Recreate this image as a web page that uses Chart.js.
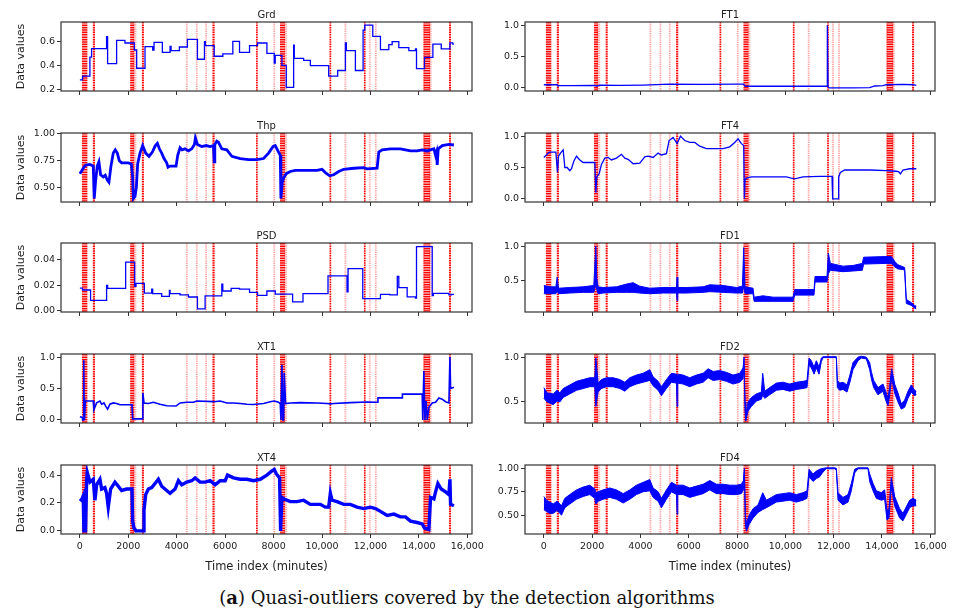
<!DOCTYPE html>
<html>
<head>
<meta charset="utf-8">
<script src="https://cdn.jsdelivr.net/npm/chart.js@4.4.1/dist/chart.umd.min.js"></script>
<style>
  html, body { margin: 0; padding: 0; background: #fff; }
  #fig { position: relative; width: 958px; height: 612px; overflow: hidden; background: #fff; }
  #fig canvas { position: absolute; }
  #caption { position: absolute; left: 0; width: 934px; top: 587px; line-height: 22px;
             text-align: center; font-family: 'DejaVu Serif', serif; font-size: 18px; color: #111; }
</style>
</head>
<body>
<div id="fig">
  <div id="caption">(<b>a</b>) Quasi-outliers covered by the detection algorithms</div>
</div>
<script>
// ---- shared time axis ----
const timeTickValues = [0, 2000, 4000, 6000, 8000, 10000, 12000, 14000, 16000];
const timeTickLabels = ['0', '2000', '4000', '6000', '8000', '10,000', '12,000', '14,000', '16,000'];

// ---- quasi-outlier time stamps (minutes) ----
const outlierTimesStrong = [120, 140, 160, 180, 200, 220, 240, 260, 275, 570, 590,
  2110, 2130, 2150, 2170, 2190, 2210, 2595, 2610, 5510, 5530, 7310,
  8300, 8320, 8340, 8360, 8380, 8420, 8440, 10345, 11766,
  14230, 14250, 14270, 14290, 14310, 14330, 14350, 14370, 14390, 14410, 14430, 15280, 15295];
const outlierTimesFaint = [2230, 2250, 2270, 2295, 4414, 4828, 5214, 8028, 8490, 8515,
  10966, 11973, 12221, 14210, 14450, 14470, 14490];

// ---- Grd (step signal) ----
const grdTime = [0, 110, 414, 483, 1103, 1145, 1517, 1862, 2248, 2345, 2690, 3007, 3062, 3407, 3724, 3766,
  4110, 4441, 4855, 5145, 5186, 5545, 5903, 6317, 6593, 7007, 7338, 7724, 8028, 8069, 8345, 8524,
  8828, 8855, 9241, 9517, 10276, 10648, 10966, 11007, 11379, 11697, 11766, 12097, 12414, 12759,
  12897, 13172, 13586, 13862, 13903, 14234, 14579, 14924, 15283, 15400, 15448];
const grdValue = [0.278, 0.309, 0.47, 0.541, 0.642, 0.415, 0.611, 0.589, 0.53, 0.376, 0.558, 0.53, 0.594, 0.51, 0.56, 0.524,
  0.555, 0.619, 0.452, 0.60, 0.566, 0.477, 0.497, 0.603, 0.51, 0.566, 0.589, 0.502, 0.42, 0.485, 0.40, 0.214,
  0.57, 0.46, 0.443, 0.398, 0.309, 0.357, 0.59, 0.524, 0.357, 0.698, 0.74, 0.645, 0.533, 0.575,
  0.60, 0.55, 0.525, 0.54, 0.373, 0.468, 0.58, 0.54, 0.59, 0.58, 0.58];
const grdTicks = ['0.2', '0.4', '0.6'];

// ---- Thp ----
const thpTime = [0, 83, 166, 248, 414, 552, 593, 648, 717, 786, 855, 966, 1048, 1131, 1200, 1283, 1379, 1462, 1545,
  1628, 1724, 2000, 2124, 2179, 2207, 2276, 2331, 2386, 2483, 2593, 2717, 2855, 2993, 3117, 3200, 3283,
  3379, 3476, 3586, 3641, 3724, 3972, 4041, 4138, 4221, 4345, 4483, 4621, 4731, 4772, 4855, 5034,
  5214, 5379, 5517, 5545, 5572, 5655, 5724, 5862, 6069, 6276, 6621, 6966, 7310, 7586, 7793, 7972,
  8069, 8207, 8276, 8303, 8359, 8414, 8524, 8690, 8897, 9379, 9793, 10000, 10138, 10317, 10483,
  10690, 10897, 11310, 11724, 11862, 12276, 12345, 12483, 12828, 13241, 13448, 13655, 13931, 14138,
  14345, 14621, 14690, 14731, 14759, 14800, 14966, 15241, 15448];
const thpValue = [0.63, 0.66, 0.69, 0.71, 0.715, 0.70, 0.40, 0.56, 0.70, 0.74, 0.62, 0.60, 0.615, 0.57, 0.55, 0.70, 0.82, 0.85, 0.82,
  0.75, 0.73, 0.73, 0.72, 0.60, 0.40, 0.42, 0.50, 0.72, 0.82, 0.89, 0.82, 0.79, 0.83, 0.89, 0.91, 0.86,
  0.82, 0.77, 0.73, 0.69, 0.70, 0.70, 0.80, 0.87, 0.85, 0.86, 0.84, 0.86, 0.90, 0.96, 0.90, 0.88,
  0.89, 0.88, 0.89, 0.74, 0.90, 0.93, 0.92, 0.86, 0.85, 0.79, 0.77, 0.76, 0.76, 0.77, 0.82, 0.88,
  0.89, 0.83, 0.80, 0.40, 0.55, 0.59, 0.63, 0.65, 0.66, 0.66, 0.66, 0.67, 0.64, 0.61, 0.62,
  0.65, 0.67, 0.68, 0.685, 0.675, 0.68, 0.83, 0.85, 0.86, 0.86, 0.85, 0.84, 0.84, 0.85,
  0.84, 0.86, 0.80, 0.83, 0.71, 0.86, 0.89, 0.90, 0.895];
const thpTicks = ['0.50', '0.75', '1.00'];

// ---- PSD (step signal) ----
const psdTime = [0, 110, 441, 1103, 1145, 1890, 2262, 2317, 2662, 2966, 3007, 3379, 3697, 3724, 4138, 4483, 4855,
  5172, 5862, 5903, 6248, 6593, 7007, 7338, 7724, 8069, 8786, 9214, 10248, 11034, 11076, 11683, 12414,
  12800, 13110, 13172, 13517, 13862, 13903, 14552, 14600, 15241, 15350, 15448];
const psdValue = [0.0179, 0.0164, 0.0083, 0.020, 0.0177, 0.0382, 0.0192, 0.0216, 0.014, 0.017, 0.0135, 0.0114, 0.016, 0.0135, 0.0125, 0.0109, 0.0016,
  0.0117, 0.021, 0.0156, 0.0177, 0.0171, 0.0145, 0.0122, 0.0156, 0.0132, 0.007, 0.0135, 0.0275, 0.015, 0.0332, 0.0096, 0.013,
  0.0125, 0.027, 0.0182, 0.011, 0.010, 0.0504, 0.012, 0.0138, 0.0125, 0.013, 0.013];
const psdTicks = ['0.00', '0.02', '0.04'];

// ---- XT1 ----
const xt1Time = [0, 100, 115, 150, 160, 172, 185, 200, 221, 552, 580, 690, 828, 897, 993, 1076, 1145, 1241, 1379, 1517,
  1655, 2069, 2152, 2180, 2580, 2600, 2648, 2828, 3034, 3310, 3586, 3972, 4138, 4414, 4690, 4828, 5517,
  5793, 6069, 6345, 6621, 6897, 7172, 7586, 7862, 8028, 8207, 8276, 8303, 8345, 8380, 8414, 8440, 8497,
  8690, 9103, 9793, 10207, 10345, 10483, 11172, 11862, 12276, 12310, 13310, 13320, 14138, 14160, 14207,
  14250, 14300, 14350, 14414, 14552, 14690, 14828, 14966, 15103, 15241, 15283, 15310, 15448];
const xt1Value = [0.05, 0.04, 0.0, 0.0, 0.95, 0.35, 0.0, 0.0, 0.30, 0.30, 0.16, 0.27, 0.30, 0.25, 0.27, 0.21, 0.17, 0.25, 0.27, 0.26,
  0.24, 0.24, 0.24, 0.016, 0.016, 0.43, 0.27, 0.26, 0.28, 0.25, 0.225, 0.22, 0.27, 0.28, 0.28, 0.30, 0.29,
  0.30, 0.27, 0.27, 0.26, 0.25, 0.245, 0.26, 0.29, 0.30, 0.28, 0.26, 0.0, 0.88, 0.0, 0.0, 0.75, 0.26,
  0.27, 0.275, 0.27, 0.26, 0.255, 0.26, 0.275, 0.285, 0.28, 0.35, 0.35, 0.41, 0.41, 0.0, 0.78,
  0.0, 0.30, 0.0, 0.20, 0.27, 0.28, 0.35, 0.33, 0.29, 0.27, 1.0, 0.50, 0.52];
const xt1Ticks = ['0.0', '0.5', '1.0'];

// ---- XT4 ----
const xt4Time = [0, 69, 138, 166, 234, 276, 303, 414, 552, 621, 690, 828, 897, 1034, 1103, 1172, 1269, 1448, 1586, 1724,
  1931, 2152, 2179, 2234, 2317, 2621, 2648, 2717, 2828, 2966, 3103, 3241, 3379, 3586, 3724, 3931, 4069,
  4207, 4414, 4621, 4759, 4966, 5172, 5379, 5586, 5793, 6000, 6097, 6345, 6621, 6897, 7172, 7448, 7724,
  7931, 8028, 8110, 8248, 8290, 8345, 8414, 8690, 8966, 9241, 9517, 9931, 10138, 10276, 10345, 10414,
  10621, 10897, 11172, 11448, 11724, 12000, 12207, 12414, 12690, 12966, 13241, 13448, 13655, 13931,
  14138, 14234, 14414, 14483, 14621, 14690, 14786, 14924, 15103, 15241, 15283, 15310, 15448];
const xt4Value = [0.23, 0.22, 0.25, 0.0, 0.0, 0.35, 0.42, 0.35, 0.37, 0.22, 0.33, 0.37, 0.30, 0.31, 0.27, 0.17, 0.30, 0.35, 0.32, 0.29,
  0.30, 0.30, 0.07, 0.02, 0.0, 0.0, 0.15, 0.26, 0.30, 0.31, 0.34, 0.37, 0.32, 0.29, 0.27, 0.30, 0.36,
  0.33, 0.35, 0.36, 0.38, 0.35, 0.35, 0.36, 0.33, 0.36, 0.36, 0.40, 0.38, 0.37, 0.37, 0.36, 0.37, 0.40,
  0.43, 0.44, 0.41, 0.38, 0.0, 0.24, 0.23, 0.21, 0.21, 0.22, 0.19, 0.19, 0.17, 0.17, 0.27, 0.22,
  0.21, 0.19, 0.19, 0.17, 0.16, 0.17, 0.16, 0.14, 0.11, 0.12, 0.10, 0.10, 0.07, 0.06,
  0.05, 0.02, 0.01, 0.24, 0.23, 0.28, 0.34, 0.30, 0.28, 0.26, 0.37, 0.19, 0.18];
const xt4Ticks = ['0.0', '0.2', '0.4'];

// ---- FT1 ----
const ft1Time = [0, 552, 579, 1076, 2110, 2179, 2317, 3145, 4110, 5214, 6593, 7972, 8276, 8331, 11724, 11738, 11766,
  11807, 12800, 13490, 13697, 14041, 14179, 14869, 15283, 15421];
const ft1Value = [0.05, 0.05, 0.035, 0.035, 0.04, 0.03, 0.045, 0.04, 0.045, 0.06, 0.055, 0.06, 0.06, 0.026, 0.026, 1.0, 0.02,
  0.0, 0.0, 0.005, 0.03, 0.035, 0.05, 0.055, 0.05, 0.04];
const ft1Ticks = ['0.0', '0.5', '1.0'];

// ---- FT4 ----
const ft4Time = [0, 83, 179, 248, 497, 566, 607, 690, 800, 869, 966, 1076, 1145, 1241, 1352, 1490, 1628, 2110, 2152,
  2193, 2290, 2386, 2524, 2662, 2800, 3007, 3214, 3352, 3490, 3697, 3972, 4179, 4317, 4524, 4731, 4869,
  5076, 5186, 5352, 5517, 5655, 5834, 6041, 6248, 6455, 6731, 7421, 7697, 7903, 8041, 8179, 8276, 8303,
  8331, 8386, 8593, 9352, 10041, 10248, 10386, 10731, 11421, 11931, 11959, 12179, 12207, 12276, 12455,
  13490, 14179, 14593, 14703, 14759, 14869, 15145, 15421];
const ft4Value = [0.66, 0.69, 0.73, 0.745, 0.745, 0.42, 0.68, 0.73, 0.78, 0.50, 0.50, 0.45, 0.48, 0.60, 0.68, 0.62, 0.58, 0.58, 0.10,
  0.35, 0.40, 0.55, 0.65, 0.66, 0.62, 0.65, 0.71, 0.65, 0.63, 0.56, 0.57, 0.67, 0.68, 0.66, 0.73, 0.70,
  0.72, 0.93, 0.98, 0.88, 1.0, 0.93, 0.90, 0.90, 0.84, 0.80, 0.80, 0.83, 0.90, 0.957, 0.88, 0.85, 0.0,
  0.30, 0.33, 0.35, 0.35, 0.35, 0.33, 0.32, 0.35, 0.36, 0.36, 0.0, 0.0, 0.35, 0.42, 0.46,
  0.46, 0.45, 0.44, 0.43, 0.40, 0.46, 0.48, 0.48];
const ft4Ticks = ['0.0', '0.5', '1.0'];

// ---- FD1 (noisy: centre and half-width of the noise band) ----
const fd1Time = [0, 248, 497, 552, 607, 1076, 1628, 2069, 2152, 2193, 2248, 2455, 3007, 3421, 3697, 3972, 4386, 4938,
  5490, 5517, 5545, 5903, 6593, 6869, 7421, 7972, 8221, 8276, 8331, 8662, 8704, 9076, 9490, 10317,
  10386, 11186, 11228, 11724, 11779, 11862, 12386, 12800, 13186, 13241, 14179, 14386, 14524, 14662,
  14869, 14938, 15007, 15214, 15352, 15421];
const fd1Value = [0.37, 0.36, 0.36, 0.45, 0.35, 0.36, 0.37, 0.38, 0.72, 0.45, 0.36, 0.36, 0.37, 0.39, 0.40, 0.37, 0.35, 0.36,
  0.36, 0.38, 0.36, 0.36, 0.37, 0.39, 0.38, 0.36, 0.37, 0.70, 0.36, 0.35, 0.23, 0.24, 0.23, 0.23,
  0.33, 0.33, 0.52, 0.52, 0.75, 0.70, 0.67, 0.68, 0.70, 0.79, 0.80, 0.80, 0.74, 0.70,
  0.68, 0.67, 0.20, 0.16, 0.12, 0.11];
const fd1Spread = [0.06, 0.05, 0.05, 0.10, 0.04, 0.04, 0.04, 0.05, 0.28, 0.08, 0.05, 0.04, 0.04, 0.06, 0.07, 0.05, 0.04, 0.04,
  0.04, 0.17, 0.04, 0.04, 0.04, 0.05, 0.05, 0.04, 0.05, 0.28, 0.05, 0.04, 0.03, 0.04, 0.03, 0.03,
  0.04, 0.04, 0.04, 0.04, 0.15, 0.05, 0.04, 0.04, 0.05, 0.05, 0.05, 0.05, 0.04, 0.03,
  0.02, 0.02, 0.03, 0.02, 0.02, 0.02];
const fd1Ticks = ['0.5', '1.0'];

// ---- FD2 ----
const fd2Time = [0, 138, 386, 552, 662, 800, 1076, 1352, 1628, 1903, 2110, 2152, 2248, 2386, 2593, 2869, 3145, 3352,
  3559, 3834, 4110, 4386, 4524, 4731, 4869, 5076, 5283, 5490, 5517, 5545, 5765, 6041, 6317, 6593, 6800,
  7007, 7283, 7559, 7834, 8110, 8248, 8290, 8331, 8359, 8455, 8593, 8800, 9007, 9062, 9145, 9352, 9628,
  9903, 10179, 10455, 10731, 10897, 10979, 11076, 11186, 11283, 11393, 11490, 11559, 12110, 12152,
  12248, 12386, 12552, 12662, 12800, 13007, 13145, 13352, 13490, 13559, 13655, 13834, 14041, 14179,
  14248, 14317, 14400, 14524, 14662, 14800, 14938, 15076, 15214, 15352, 15421];
const fd2Value = [0.60, 0.55, 0.53, 0.57, 0.55, 0.60, 0.64, 0.68, 0.70, 0.72, 0.72, 0.72, 0.66, 0.70, 0.72, 0.72, 0.70, 0.67,
  0.72, 0.75, 0.77, 0.80, 0.73, 0.68, 0.62, 0.70, 0.77, 0.76, 0.62, 0.76, 0.75, 0.72, 0.75, 0.77, 0.82,
  0.79, 0.80, 0.78, 0.75, 0.77, 0.82, 0.95, 0.45, 0.32, 0.45, 0.50, 0.55, 0.57, 0.70, 0.58, 0.62, 0.67,
  0.68, 0.66, 0.68, 0.69, 0.70, 0.95, 0.92, 0.85, 0.92, 0.85, 0.97, 1.0, 1.0, 0.70,
  0.67, 0.68, 0.65, 0.75, 0.90, 0.98, 1.0, 0.99, 0.90, 0.80, 0.70, 0.62, 0.66, 0.55,
  0.50, 0.62, 0.82, 0.65, 0.55, 0.45, 0.48, 0.58, 0.65, 0.60, 0.60];
const fd2Spread = [0.06, 0.05, 0.06, 0.06, 0.05, 0.05, 0.05, 0.05, 0.05, 0.05, 0.05, 0.27, 0.05, 0.05, 0.05, 0.05, 0.05, 0.05,
  0.05, 0.05, 0.05, 0.06, 0.05, 0.05, 0.05, 0.05, 0.05, 0.05, 0.17, 0.05, 0.05, 0.05, 0.05, 0.05, 0.05,
  0.05, 0.05, 0.05, 0.05, 0.05, 0.06, 0.05, 0.05, 0.03, 0.05, 0.05, 0.04, 0.04, 0.12, 0.04, 0.04, 0.04,
  0.04, 0.04, 0.04, 0.04, 0.04, 0.04, 0.04, 0.04, 0.04, 0.04, 0.02, 0.005, 0.005, 0.04,
  0.04, 0.04, 0.04, 0.04, 0.04, 0.02, 0.01, 0.01, 0.04, 0.04, 0.04, 0.04, 0.04, 0.05,
  0.04, 0.05, 0.05, 0.05, 0.05, 0.03, 0.04, 0.04, 0.04, 0.03, 0.02];
const fd2Ticks = ['0.5', '1.0'];

// ---- FD4 ----
const fd4Time = [0, 110, 248, 386, 552, 662, 731, 869, 1076, 1352, 1628, 1903, 2110, 2152, 2248, 2455, 2731, 3007,
  3283, 3559, 3834, 4110, 4386, 4524, 4731, 4869, 5076, 5283, 5490, 5517, 5545, 5765, 6041, 6317, 6593,
  6869, 7145, 7421, 7697, 7972, 8179, 8262, 8303, 8345, 8386, 8497, 8662, 8869, 9062, 9214, 9421, 9628,
  9903, 10179, 10455, 10731, 10897, 10979, 11145, 11283, 11421, 11559, 11697, 12041, 12110, 12179,
  12386, 12593, 12731, 12869, 13007, 13421, 13490, 13628, 13766, 13972, 14110, 14207, 14290, 14386,
  14524, 14731, 14869, 15007, 15145, 15283, 15421];
const fd4Value = [0.63, 0.60, 0.58, 0.57, 0.60, 0.57, 0.55, 0.63, 0.67, 0.72, 0.75, 0.77, 0.73, 0.68, 0.70, 0.72, 0.74, 0.72,
  0.68, 0.72, 0.77, 0.80, 0.82, 0.74, 0.70, 0.63, 0.72, 0.80, 0.77, 0.65, 0.77, 0.77, 0.74, 0.76, 0.78,
  0.82, 0.78, 0.78, 0.77, 0.77, 0.78, 0.82, 0.98, 0.45, 0.37, 0.45, 0.52, 0.57, 0.65, 0.62, 0.65, 0.68,
  0.69, 0.70, 0.68, 0.70, 0.72, 0.95, 0.90, 0.93, 0.95, 0.98, 1.0, 1.0, 0.99, 0.70,
  0.65, 0.68, 0.80, 0.97, 1.0, 1.0, 0.90, 0.80, 0.72, 0.70, 0.72, 0.50, 0.52, 0.85,
  0.65, 0.52, 0.48, 0.55, 0.62, 0.64, 0.63];
const fd4Spread = [0.07, 0.06, 0.06, 0.05, 0.05, 0.05, 0.05, 0.05, 0.05, 0.05, 0.05, 0.05, 0.05, 0.06, 0.05, 0.05, 0.05, 0.05,
  0.05, 0.05, 0.05, 0.05, 0.06, 0.05, 0.05, 0.05, 0.05, 0.05, 0.05, 0.14, 0.05, 0.05, 0.05, 0.05, 0.05,
  0.05, 0.05, 0.05, 0.05, 0.05, 0.05, 0.05, 0.02, 0.05, 0.04, 0.05, 0.05, 0.04, 0.09, 0.04, 0.04, 0.04,
  0.04, 0.04, 0.04, 0.04, 0.04, 0.04, 0.04, 0.04, 0.04, 0.02, 0.005, 0.005, 0.01, 0.04,
  0.04, 0.04, 0.04, 0.02, 0.005, 0.005, 0.04, 0.04, 0.04, 0.04, 0.05, 0.05, 0.05, 0.05,
  0.05, 0.05, 0.04, 0.04, 0.04, 0.04, 0.03];
const fd4Ticks = ['0.50', '0.75', '1.00'];

// ---- layout of the 5 x 2 grid ----
const FONT = "'DejaVu Sans', Verdana, sans-serif";
const X_MIN = -780, X_MAX = 16195;
const COL_LEFT = [61, 525];
const PLOT_W = [411, 410];
const Y_AXIS_W = [51, 45];
const ROW_TOP = [22, 133, 243, 354, 465];
const PLOT_H = 69;
const TITLE_H = 18;
const RIGHT_PAD = 24;
const BLUE = '#0000ff';

const panels = [
  { title: 'Grd', col: 0, row: 0, time: grdTime, value: grdValue, stepped: true, yMin: 0.184, yMax: 0.766, yTicks: grdTicks },
  { title: 'Thp', col: 0, row: 1, time: thpTime, value: thpValue, width: 2.8, yMin: 0.368, yMax: 1.006, yTicks: thpTicks },
  { title: 'PSD', col: 0, row: 2, time: psdTime, value: psdValue, stepped: true, yMin: -0.0009, yMax: 0.0533, yTicks: psdTicks },
  { title: 'XT1', col: 0, row: 3, time: xt1Time, value: xt1Value, width: 1.6, yMin: -0.05, yMax: 1.05, yTicks: xt1Ticks },
  { title: 'XT4', col: 0, row: 4, time: xt4Time, value: xt4Value, width: 3.4, yMin: -0.0225, yMax: 0.4725, yTicks: xt4Ticks },
  { title: 'FT1', col: 1, row: 0, time: ft1Time, value: ft1Value, yMin: -0.05, yMax: 1.05, yTicks: ft1Ticks },
  { title: 'FT4', col: 1, row: 1, time: ft4Time, value: ft4Value, yMin: -0.05, yMax: 1.05, yTicks: ft4Ticks },
  { title: 'FD1', col: 1, row: 2, time: fd1Time, value: fd1Value, spread: fd1Spread, yMin: 0.045, yMax: 1.046, yTicks: fd1Ticks },
  { title: 'FD2', col: 1, row: 3, time: fd2Time, value: fd2Value, spread: fd2Spread, yMin: 0.265, yMax: 1.035, yTicks: fd2Ticks },
  { title: 'FD4', col: 1, row: 4, time: fd4Time, value: fd4Value, spread: fd4Spread, yMin: 0.30, yMax: 1.035, yTicks: fd4Ticks }
];

// red dotted markers behind the series
const outlierPlugin = {
  id: 'outlierMarks',
  beforeDatasetsDraw(chart) {
    const { ctx, chartArea: a, scales: { x } } = chart;
    ctx.save();
    ctx.beginPath();
    ctx.rect(a.left, a.top, a.width, a.height);
    ctx.clip();
    const stroke = (times, color, width, dash) => {
      ctx.strokeStyle = color;
      ctx.lineWidth = width;
      ctx.setLineDash(dash);
      ctx.beginPath();
      for (const t of times) {
        const px = x.getPixelForValue(t);
        ctx.moveTo(px, a.top);
        ctx.lineTo(px, a.bottom);
      }
      ctx.stroke();
    };
    stroke(outlierTimesFaint, 'rgba(255,40,40,0.45)', 1.8, [1.2, 1]);
    stroke(outlierTimesStrong, 'rgb(255,0,0)', 1.7, [1.6, 0.8]);
    ctx.restore();
  }
};

// full box around each plot area
const framePlugin = {
  id: 'frame',
  afterDraw(chart) {
    const { ctx, chartArea: a } = chart;
    ctx.save();
    ctx.strokeStyle = '#333';
    ctx.lineWidth = 1.2;
    ctx.strokeRect(a.left, a.top, a.width, a.height);
    ctx.restore();
  }
};

const fig = document.getElementById('fig');

function buildDatasets(p) {
  const pts = (vals) => p.time.map((t, i) => ({ x: t, y: vals[i] }));
  if (p.spread) {
    const upper = p.value.map((v, i) => v + p.spread[i]);
    const lower = p.value.map((v, i) => v - p.spread[i]);
    return [
      { data: pts(upper), borderColor: BLUE, backgroundColor: BLUE, borderWidth: 1, pointRadius: 0, fill: '+1', tension: 0 },
      { data: pts(lower), borderColor: BLUE, backgroundColor: BLUE, borderWidth: 1, pointRadius: 0, fill: false, tension: 0 }
    ];
  }
  return [{
    data: pts(p.value), borderColor: BLUE, borderWidth: p.width || 1.3, pointRadius: 0,
    fill: false, tension: 0, stepped: p.stepped ? 'before' : false
  }];
}

function makePanel(p) {
  const bottomRow = p.row === 4;
  const xAxisH = bottomRow ? 40 : 6;
  const yW = Y_AXIS_W[p.col];
  const w = yW + PLOT_W[p.col] + RIGHT_PAD;
  const h = TITLE_H + PLOT_H + xAxisH;
  const canvas = document.createElement('canvas');
  canvas.width = w; canvas.height = h;
  canvas.style.width = w + 'px'; canvas.style.height = h + 'px';
  canvas.style.left = (COL_LEFT[p.col] - yW) + 'px';
  canvas.style.top = (ROW_TOP[p.row] - TITLE_H) + 'px';
  fig.appendChild(canvas);

  const tickFont = { family: FONT, size: 9.5 };
  const tickGrid = { display: true, drawOnChartArea: false, drawTicks: true, tickLength: 4, color: '#333', lineWidth: 1 };

  new Chart(canvas, {
    type: 'line',
    data: { datasets: buildDatasets(p) },
    options: {
      responsive: false,
      animation: false,
      devicePixelRatio: 1,
      layout: { padding: { left: 0, right: RIGHT_PAD, top: 0, bottom: 0 } },
      plugins: {
        legend: { display: false },
        tooltip: { enabled: false },
        title: {
          display: true, text: p.title, fullSize: false, color: '#222',
          font: { family: FONT, size: 10, weight: 'normal', lineHeight: '12px' },
          padding: { top: 5, bottom: 1 }
        }
      },
      scales: {
        x: {
          type: 'linear', min: X_MIN, max: X_MAX,
          afterBuildTicks: (s) => { s.ticks = timeTickValues.map(v => ({ value: v })); },
          afterFit: (s) => { s.height = xAxisH; s.paddingLeft = 0; s.paddingRight = 0; },
          ticks: {
            display: bottomRow, autoSkip: false, maxRotation: 0, minRotation: 0, padding: 3,
            color: '#222', font: tickFont, callback: (v, i) => timeTickLabels[i]
          },
          grid: tickGrid,
          border: { display: false },
          title: {
            display: bottomRow, text: 'Time index (minutes)', color: '#222',
            font: { family: FONT, size: 11.5 }, padding: { top: 0, bottom: 0 }
          }
        },
        y: {
          type: 'linear', min: p.yMin, max: p.yMax,
          afterBuildTicks: (s) => { s.ticks = p.yTicks.map(l => ({ value: parseFloat(l) })); },
          afterFit: (s) => { s.width = yW; s.paddingTop = 0; s.paddingBottom = 0; },
          ticks: { padding: 2, color: '#222', font: tickFont, callback: (v, i) => p.yTicks[i] },
          grid: tickGrid,
          border: { display: false },
          title: {
            display: p.col === 0, text: 'Data values', color: '#222',
            font: { family: FONT, size: 11 }, padding: { top: 5, bottom: 0 }
          }
        }
      }
    },
    plugins: [outlierPlugin, framePlugin]
  });
}

panels.forEach(makePanel);
</script>
</body>
</html>
